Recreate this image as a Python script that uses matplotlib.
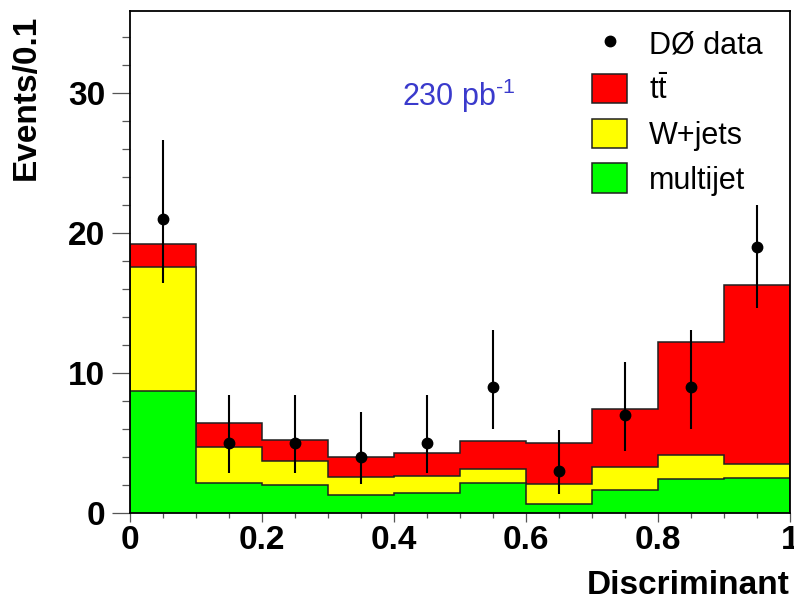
import matplotlib
matplotlib.use("Agg")
import matplotlib.pyplot as plt
from matplotlib.lines import Line2D
from matplotlib.patches import Patch
import numpy as np

plt.rcParams['font.family'] = ['Liberation Sans', 'DejaVu Sans']
plt.rcParams['mathtext.fontset'] = 'custom'
plt.rcParams['mathtext.rm'] = 'Liberation Sans'
plt.rcParams['mathtext.it'] = 'Liberation Sans'

# discriminant binning
edges = [0.0, 0.1, 0.2, 0.3, 0.4, 0.5, 0.6, 0.7, 0.8, 0.9, 1.0]
centers = [0.05, 0.15, 0.25, 0.35, 0.45, 0.55, 0.65, 0.75, 0.85, 0.95]

# expected events per bin for each sample
multijet = [8.72, 2.13, 2.01, 1.25, 1.42, 2.13, 0.62, 1.67, 2.43, 2.52]
wjets = [8.85, 2.56, 1.73, 1.31, 1.23, 1.03, 1.42, 1.61, 1.71, 1.00]
ttbar = [1.66, 1.71, 1.47, 1.47, 1.66, 2.01, 2.94, 4.15, 8.04, 12.78]

# observed data with asymmetric errors
data = [21, 5, 5, 4, 5, 9, 3, 7, 9, 19]
err_lo = [4.55, 2.16, 2.16, 1.94, 2.16, 3.0, 1.62, 2.6, 3.0, 4.4]
err_hi = [5.65, 3.4, 3.4, 3.2, 3.4, 4.07, 2.94, 3.76, 4.07, 3.0]

RED, YELLOW, GREEN = '#ff0000', '#ffff00', '#00ff00'

fig = plt.figure(figsize=(7.94, 6.0), dpi=100)
ax = fig.add_axes([0.1637, 0.145, 0.8312, 0.836])

mj = np.array(multijet)
mw = mj + np.array(wjets)
tot = mw + np.array(ttbar)

# stacked histogram, drawn top layer first
for vals, col in [(tot, RED), (mw, YELLOW), (mj, GREEN)]:
    ax.stairs(vals, edges, baseline=0, fill=True, color=col, lw=0)
    ax.stairs(vals, edges, baseline=0, fill=False, color='#202020', lw=1.1)

ax.errorbar(centers, data, yerr=[err_lo, err_hi], fmt='o', color='black',
            markersize=7.5, elinewidth=1.5, capsize=0, zorder=5)

ax.set_xlim(0, 1)
ax.set_ylim(0, 35.8)

ax.set_xticks([0, 0.2, 0.4, 0.6, 0.8, 1.0])
ax.set_xticklabels(['0', '0.2', '0.4', '0.6', '0.8', '1'])
ax.set_xticks(np.arange(0, 1.0001, 0.05), minor=True)
ax.set_yticks([0, 10, 20, 30])
ax.set_yticks(np.arange(0, 36, 2), minor=True)

ax.tick_params(axis='both', which='both', direction='out', color='#555555', width=0.9)
ax.tick_params(axis='x', which='major', length=6.5, pad=2, labelsize=24)
ax.tick_params(axis='x', which='minor', length=3.6)
ax.tick_params(axis='y', which='major', length=13, pad=5, labelsize=24)
ax.tick_params(axis='y', which='minor', length=5.8)
for lab in ax.get_xticklabels() + ax.get_yticklabels():
    lab.set_fontweight('bold')

for sp in ax.spines.values():
    sp.set_linewidth(1.3)
    sp.set_color('black')

ax.set_xlabel('Discriminant', fontsize=24, fontweight='bold', loc='right')
ax.xaxis.set_label_coords(1.0, -0.114)
ax.set_ylabel('Events/0.1', fontsize=24, fontweight='bold', loc='top')
ax.yaxis.set_label_coords(-0.134, 0.993)

handles = [
    Line2D([], [], marker='o', color='black', ls='none', markersize=7.5),
    Patch(facecolor=RED, edgecolor='#202020', lw=1.1),
    Patch(facecolor=YELLOW, edgecolor='#202020', lw=1.1),
    Patch(facecolor=GREEN, edgecolor='#202020', lw=1.1),
]
labels = ['DØ data', r'$\mathrm{t}\bar{\mathrm{t}}$', 'W+jets', 'multijet']
ax.legend(handles, labels, loc='upper right', bbox_to_anchor=(0.96, 0.952),
          bbox_transform=fig.transFigure, frameon=False, fontsize=22,
          handlelength=1.15, handleheight=1.1, handletextpad=0.7,
          labelspacing=0.42, borderpad=0, borderaxespad=0)

fig.text(402 / 794, 1 - 106 / 600, r'230 pb$^{\text{-1}}$', color='#3a3acc',
         fontsize=22, va='baseline', ha='left')

fig.savefig('out.png', dpi=100)
